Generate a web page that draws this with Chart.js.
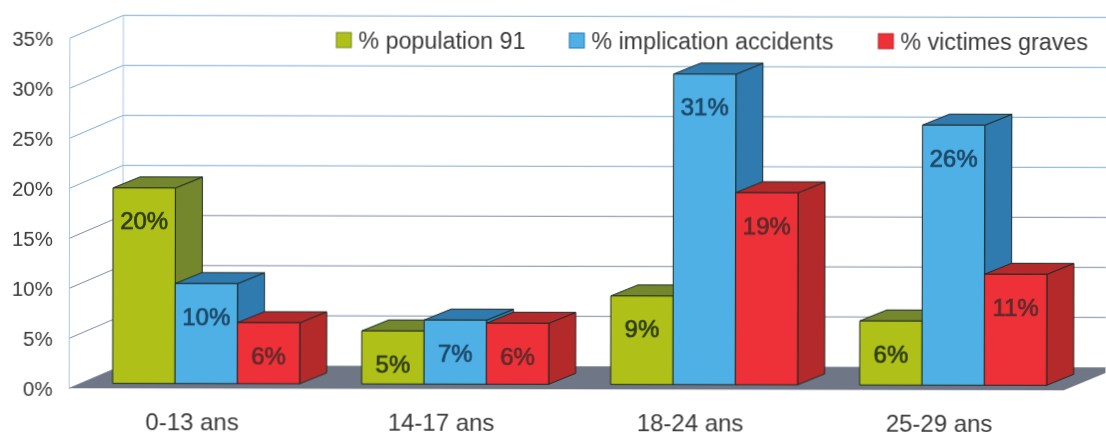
<!DOCTYPE html>
<html><head><meta charset="utf-8">
<style>html,body{margin:0;padding:0;background:#fff;overflow:hidden}
canvas{display:block;transform:rotate(0.12deg);transform-origin:553px 217px}</style>
<script src="https://cdn.jsdelivr.net/npm/chart.js@4"></script></head>
<body><canvas id="c" width="1106" height="434"></canvas>
<script>
const categories = ['0-13 ans','14-17 ans','18-24 ans','25-29 ans'];
const population = [19.55, 5.3, 8.85, 6.4];
const implication = [10.0, 6.4, 31.05, 26.0];
const victimes = [6.1, 6.1, 19.2, 11.1];
const populationLabels = ['20%','5%','9%','6%'];
const implicationLabels = ['10%','7%','31%','26%'];
const victimesLabels = ['6%','6%','19%','11%'];
const seriesNames = ['% population 91','% implication accidents','% victimes graves'];
const FONT = '"Liberation Sans", Arial, sans-serif';
const WALL = {dx:55, dy:-23, inset:1.5};
const BAR = {fx:14, fy:-5, dx:27, dy:-11};

class Bar3DElement extends Chart.BarElement {
  draw(ctx){
    const {x,y,base,width} = this.getProps(['x','y','base','width'], true);
    const o = this.options;
    const l = x - width/2 + BAR.fx, r = x + width/2 + BAR.fx;
    const t = y + BAR.fy, b = base + BAR.fy;
    ctx.save();
    ctx.strokeStyle = '#1e2a24'; ctx.lineWidth = 1; ctx.lineJoin='round';
    const poly = (pts,fill)=>{ctx.beginPath();pts.forEach((p,i)=>i?ctx.lineTo(p[0],p[1]):ctx.moveTo(p[0],p[1]));ctx.closePath();ctx.fillStyle=fill;ctx.fill();ctx.stroke();};
    poly([[r,b],[r+BAR.dx,b+BAR.dy],[r+BAR.dx,t+BAR.dy],[r,t]], o.borderColor);
    poly([[l,t],[l+BAR.dx,t+BAR.dy],[r+BAR.dx,t+BAR.dy],[r,t]], o.borderColor);
    poly([[l,t],[r,t],[r,b],[l,b]], o.backgroundColor);
    ctx.restore();
  }
}
Bar3DElement.id = 'bar3d';
Bar3DElement.defaults = Chart.BarElement.defaults;
Bar3DElement.defaultRoutes = Chart.BarElement.defaultRoutes;
class Bar3DController extends Chart.BarController {}
Bar3DController.id = 'bar3d';
Bar3DController.defaults = Object.assign({}, Chart.BarController.defaults, {dataElementType:'bar3d'});
Bar3DController.overrides = Chart.BarController.overrides;
Chart.register(Bar3DElement, Bar3DController);

const walls = {
  id:'walls',
  beforeDatasetDraw(){ return false; },
  beforeDatasetsDraw(chart){
    const {ctx,chartArea:a,scales:{y}} = chart;
    const vals = y.ticks.map(t=>t.value);
    const y0 = y.getPixelForValue(0), yT = y.getPixelForValue(35);
    const fl = a.left + WALL.inset;
    ctx.save();
    ctx.beginPath();
    ctx.moveTo(fl,y0);ctx.lineTo(a.right,y0);ctx.lineTo(a.right+WALL.dx,y0+WALL.dy);ctx.lineTo(a.left+WALL.dx,y0+WALL.dy);ctx.closePath();
    ctx.fillStyle='#6f7686';ctx.fill();
    ctx.lineWidth=1;
    vals.forEach(v=>{
      const p=y.getPixelForValue(v);
      ctx.strokeStyle = v>=20 ? '#7fabd0' : '#7f8ca6';
      if(v>0){
        ctx.beginPath();ctx.moveTo(a.left+WALL.dx,p+WALL.dy);ctx.lineTo(a.right+WALL.dx,p+WALL.dy);ctx.stroke();
      }
      ctx.beginPath();ctx.moveTo(fl,p);ctx.lineTo(a.left+WALL.dx,p+WALL.dy);ctx.stroke();
    });
    ctx.strokeStyle='#a9c8e2';
    ctx.beginPath();ctx.moveTo(fl,y0);ctx.lineTo(fl,yT);
    ctx.moveTo(a.left+WALL.dx,y0+WALL.dy);ctx.lineTo(a.left+WALL.dx,yT+WALL.dy);ctx.stroke();
    ctx.restore();
  },
  afterDatasetsDraw(chart){
    const {ctx} = chart;
    chart.data.datasets.forEach((ds,i)=>chart.getDatasetMeta(i).controller.draw());
    ctx.save();
    ctx.textAlign='center';ctx.textBaseline='middle';
    ctx.font='24px '+FONT;
    chart.data.datasets.forEach((ds,i)=>{
      const meta=chart.getDatasetMeta(i);
      meta.data.forEach((el,k)=>{
        const px=el.x+BAR.fx, py=el.y+BAR.fy+35;
        ctx.fillStyle=ds.labelColor;ctx.strokeStyle=ds.labelColor;ctx.lineWidth=0.7;
        ctx.strokeText(ds.valueLabels[k],px,py);
        ctx.fillText(ds.valueLabels[k],px,py);
      });
    });
    const xs=[336,569,878];
    ctx.textAlign='left';ctx.font='23.3px '+FONT;
    chart.data.datasets.forEach((ds,i)=>{
      ctx.fillStyle=ds.backgroundColor;ctx.strokeStyle=ds.borderColor;ctx.lineWidth=1;
      ctx.fillRect(xs[i],33,15,15);ctx.strokeRect(xs[i],33,15,15);
      ctx.fillStyle='#3a3a3a';
      ctx.fillText(ds.label,xs[i]+22,42.5);
    });
    ctx.restore();
  }
};

new Chart(document.getElementById('c'),{
  type:'bar3d',
  data:{labels:categories,datasets:[
    {label:seriesNames[0],data:population,valueLabels:populationLabels,labelColor:'#2e3c12',backgroundColor:'#afc119',borderColor:'#75872c',clip:false},
    {label:seriesNames[1],data:implication,valueLabels:implicationLabels,labelColor:'#1c4766',backgroundColor:'#4fb0e6',borderColor:'#2f7bb0',clip:false},
    {label:seriesNames[2],data:victimes,valueLabels:victimesLabels,labelColor:'#5c2b2b',backgroundColor:'#ee3038',borderColor:'#b42a2a',clip:false}
  ]},
  options:{
    responsive:false,animation:false,
    layout:{padding:{top:39.3,right:42,left:0,bottom:0}},
    categoryPercentage:0.751,barPercentage:1,
    plugins:{legend:{display:false},tooltip:{enabled:false},title:{display:false}},
    scales:{
      x:{grid:{display:false,drawTicks:false},border:{display:false},
         afterFit(s){s.height=44.7;},
         ticks:{color:'#3a3a3a',padding:21,font:{family:FONT,size:24},maxRotation:0}},
      y:{min:0,max:35,grid:{display:false,drawTicks:false},border:{display:false},
         afterFit(s){s.width=68;},
         ticks:{stepSize:5,color:'#3a3a3a',padding:15,labelOffset:2,font:{family:FONT,size:20.5},callback:v=>v+'%'}}
    }
  },
  plugins:[walls]
});
</script></body></html>
